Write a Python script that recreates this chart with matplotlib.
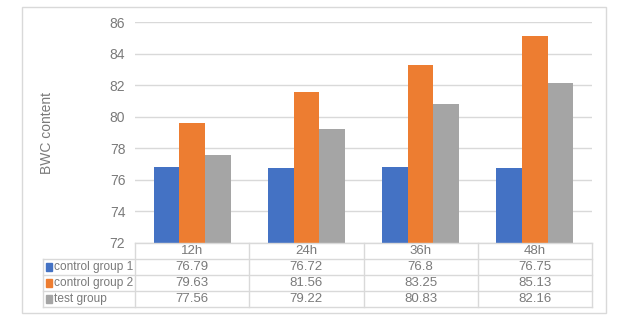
import matplotlib.pyplot as plt
import numpy as np
from matplotlib.patches import Rectangle
from matplotlib.transforms import blended_transform_factory

plt.rcParams['font.family'] = ['Liberation Sans Narrow', 'Liberation Sans', 'DejaVu Sans']

# data
times = ["12h", "24h", "36h", "48h"]
control1 = [76.79, 76.72, 76.8, 76.75]
control2 = [79.63, 81.56, 83.25, 85.13]
test = [77.56, 79.22, 80.83, 82.16]
series_names = ["control group 1", "control group 2", "test group"]
colors = ["#4472C4", "#ED7D31", "#A5A5A5"]
grey_txt = "#7a7a7a"
line_c = "#d9d9d9"

fig = plt.figure(figsize=(6.36, 3.32), dpi=100)
# outer chart border
fig.patches.append(Rectangle((22/636, 1-313/332), 584/636, 306/332, transform=fig.transFigure,
                             fill=False, edgecolor=line_c, lw=1))
ax = fig.add_axes([135/636, 1-243/332, 457/636, 221/332])

x = np.arange(len(times))
w = 0.225
for i, vals in enumerate([control1, control2, test]):
    ax.bar(x + (i-1)*w, vals, width=w, color=colors[i], zorder=2)

ax.set_xlim(-0.5, 3.5)
ax.set_ylim(72, 86)
ax.set_yticks(range(72, 87, 2))
ax.yaxis.grid(True, color=line_c, lw=1, zorder=0)
ax.tick_params(axis='y', length=0, labelsize=10, labelcolor=grey_txt, pad=7)
ax.set_xticks([])
for s in ax.spines.values():
    s.set_visible(False)
ax.set_ylabel("BWC content", fontsize=10, color=grey_txt, labelpad=40)

# data table below the plot
tr = blended_transform_factory(ax.transData, ax.transAxes)
rh = 16/221
left = -0.5 - 92/457*4
edge = [-0.5, 0.5, 1.5, 2.5, 3.5]
kw = dict(color=line_c, lw=1, clip_on=False, transform=tr)
ax.plot([-0.5, 3.5], [0, 0], **kw)
for r in range(1, 5):
    ax.plot([left, 3.5], [-r*rh, -r*rh], **kw)
for e in edge:
    ax.plot([e, e], [0, -4*rh], **kw)
ax.plot([left, left], [-rh, -4*rh], **kw)

fs = 9.5
for j, t in enumerate(times):
    ax.text(j, -0.5*rh, t, transform=tr, ha='center', va='center', fontsize=fs, color=grey_txt)
for i, vals in enumerate([control1, control2, test]):
    yc = -(i+1.5)*rh
    ax.add_patch(Rectangle((left + 0.03, yc - 0.016), 0.05, 0.032, transform=tr,
                           color=colors[i], clip_on=False))
    ax.text(left + 0.1, yc, series_names[i], transform=tr, ha='left', va='center',
            fontsize=8.6, color=grey_txt)
    for j, v in enumerate(vals):
        ax.text(j, yc, str(v), transform=tr, ha='center', va='center', fontsize=fs, color=grey_txt)

fig.savefig("out.png", dpi=100)
